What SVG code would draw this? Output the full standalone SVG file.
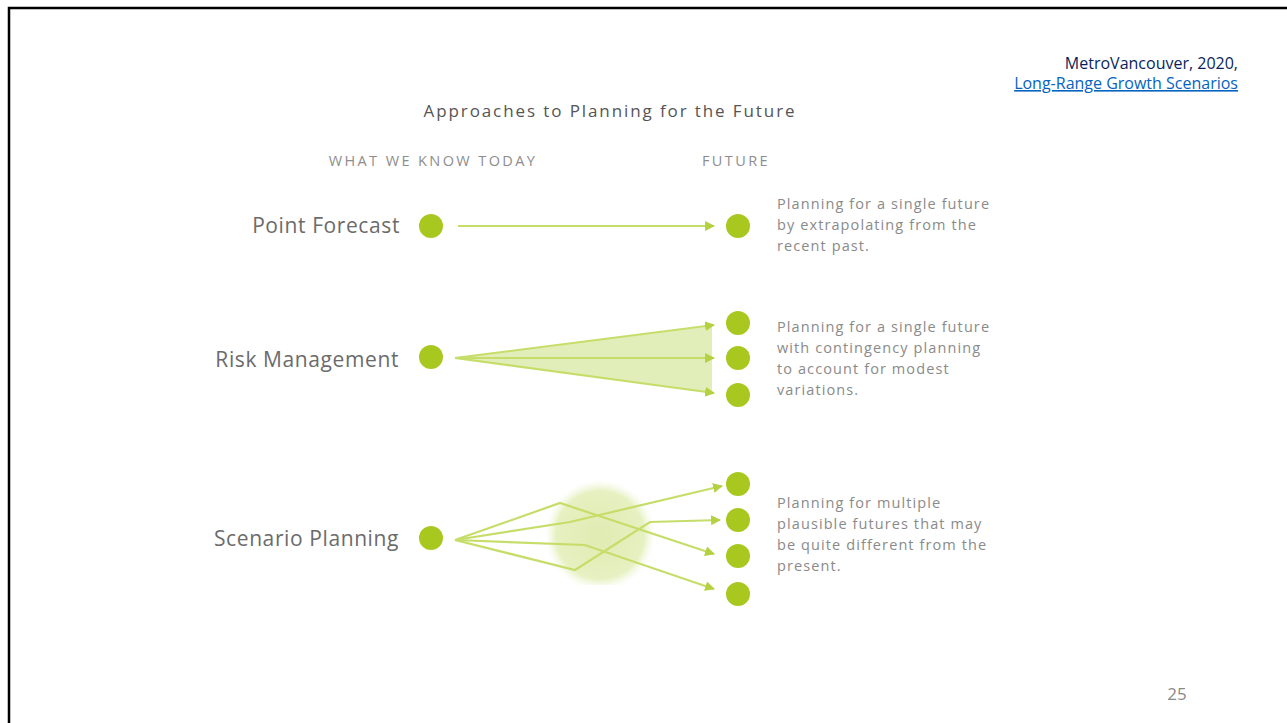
<svg xmlns="http://www.w3.org/2000/svg" width="1287" height="723" viewBox="0 0 1287 723">
<style>
.lbl{font-family:"Open Sans","Liberation Sans",sans-serif;font-size:21px;fill:#6b6b6b;text-anchor:end;letter-spacing:0.6px}
.desc{font-family:"Open Sans","Liberation Sans",sans-serif;font-size:14.5px;fill:#8a8a8a;letter-spacing:1.1px}
.hdr{font-family:"Open Sans","Liberation Sans",sans-serif;font-size:14.5px;fill:#8d8d8d;text-anchor:middle;letter-spacing:2.4px}
.dot{fill:#a8c820}
.ln{stroke:#c6dd6a;stroke-width:2.2;fill:none}
</style>
<defs>
<marker id="ah" viewBox="0 0 10 10" refX="9" refY="5" markerWidth="4.5" markerHeight="4.5" orient="auto" markerUnits="strokeWidth">
<path d="M0,0 L10,5 L0,10 z" fill="#b5d040"/>
</marker>
<radialGradient id="blob" cx="0.5" cy="0.5" r="0.5">
<stop offset="0" stop-color="#dbe9a8" stop-opacity="0.9"/>
<stop offset="0.8" stop-color="#e0edb2" stop-opacity="0.8"/>
<stop offset="1" stop-color="#eef5d5" stop-opacity="0"/>
</radialGradient>
<clipPath id="cb"><rect x="530" y="470" width="140" height="115"/></clipPath>
</defs>
<rect width="1287" height="723" fill="#ffffff"/>
<rect x="9" y="8" width="1300" height="740" fill="none" stroke="#000" stroke-width="2.5"/>
<g id="citation">
<text x="1238" y="69" font-family="'Open Sans','Liberation Sans',sans-serif" font-size="16" fill="#0a1f5c" text-anchor="end">MetroVancouver, 2020,</text>
<text x="1238" y="89" font-family="'Open Sans','Liberation Sans',sans-serif" font-size="16" fill="#0563c1" text-anchor="end" text-decoration="underline">Long-Range Growth Scenarios</text>
</g>
<g id="title">
<text x="610" y="117" font-family="'Open Sans','Liberation Sans',sans-serif" font-size="17" fill="#555" text-anchor="middle" letter-spacing="1.9">Approaches to Planning for the Future</text>
<text class="hdr" x="433" y="166">WHAT WE KNOW TODAY</text>
<text class="hdr" x="736" y="166">FUTURE</text>
</g>
<g id="connectors">
<line class="ln" x1="458" y1="226" x2="714" y2="226" marker-end="url(#ah)"/>
<polygon points="455,358 712,326 712,393" fill="#dcebad" opacity="0.85"/>
<line class="ln" x1="455" y1="358" x2="714" y2="325" marker-end="url(#ah)"/>
<line class="ln" x1="455" y1="358" x2="714" y2="358" marker-end="url(#ah)"/>
<line class="ln" x1="455" y1="358" x2="714" y2="393" marker-end="url(#ah)"/>
<circle cx="600" cy="535" r="55" fill="url(#blob)" clip-path="url(#cb)"/>
<polyline class="ln" points="455,540 560,503 714,554" marker-end="url(#ah)"/>
<polyline class="ln" points="455,540 570,522 722,486" marker-end="url(#ah)"/>
<polyline class="ln" points="455,540 585,545 714,589" marker-end="url(#ah)"/>
<polyline class="ln" points="455,540 575,570 650,522 720,520" marker-end="url(#ah)"/>
</g>
<g id="point-forecast">
<text class="lbl" x="400" y="233">Point Forecast</text>
<circle class="dot" cx="431" cy="226" r="12"/>
<circle class="dot" cx="738" cy="226" r="12"/>
<text class="desc" x="777" y="209">Planning for a single future</text>
<text class="desc" x="777" y="230">by extrapolating from the</text>
<text class="desc" x="777" y="251">recent past.</text>
</g>
<g id="risk-management">
<text class="lbl" x="399" y="367">Risk Management</text>
<circle class="dot" cx="431" cy="357" r="12"/>
<circle class="dot" cx="738" cy="323" r="12"/>
<circle class="dot" cx="738" cy="358" r="12"/>
<circle class="dot" cx="738" cy="395" r="12"/>
<text class="desc" x="777" y="332">Planning for a single future</text>
<text class="desc" x="777" y="353">with contingency planning</text>
<text class="desc" x="777" y="374">to account for modest</text>
<text class="desc" x="777" y="395">variations.</text>
</g>
<g id="scenario-planning">
<text class="lbl" x="399" y="546">Scenario Planning</text>
<circle class="dot" cx="431" cy="538" r="12"/>
<circle class="dot" cx="738" cy="484" r="12"/>
<circle class="dot" cx="738" cy="520" r="12"/>
<circle class="dot" cx="738" cy="556" r="12"/>
<circle class="dot" cx="738" cy="594" r="12"/>
<text class="desc" x="777" y="508">Planning for multiple</text>
<text class="desc" x="777" y="529">plausible futures that may</text>
<text class="desc" x="777" y="550">be quite different from the</text>
<text class="desc" x="777" y="571">present.</text>
</g>
<text x="1177" y="700" font-family="'Open Sans','Liberation Sans',sans-serif" font-size="17" fill="#8a8a8a" text-anchor="middle">25</text>
</svg>
